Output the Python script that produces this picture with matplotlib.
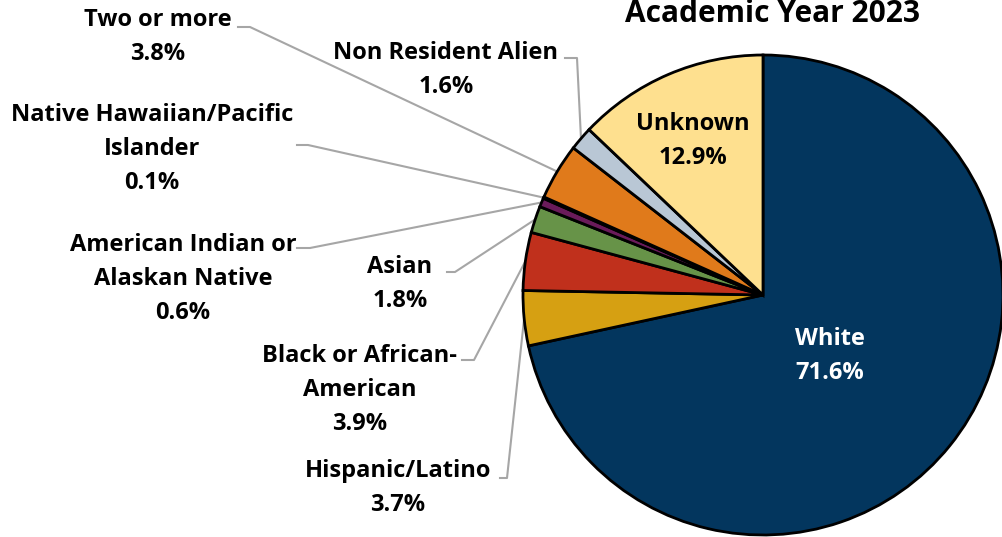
import numpy as np
import matplotlib.pyplot as plt

# data
categories = ['White', 'Hispanic/Latino', 'Black or African-\nAmerican', 'Asian',
              'American Indian or\nAlaskan Native', 'Native Hawaiian/Pacific\nIslander',
              'Two or more', 'Non Resident Alien', 'Unknown']
percents = [71.6, 3.7, 3.9, 1.8, 0.6, 0.1, 3.8, 1.6, 12.9]
colors = ['#03365E', '#D6A012', '#C0301C', '#679348', '#6A1B5A', '#2A2A2A',
          '#E07A1B', '#B9C7D5', '#FEE08F']

# label layout in pixels (text block centre), leader elbow (x, y, elbow x)
label_pos = [(830, 356), (398, 488), (360, 390), (400, 284), (183, 279),
             (152, 149), (158, 37), (446, 70), (693, 141)]
leader = [None, (500, 478, 507), (462, 360, 474), (447, 272, 455), (297, 248, 310),
          (297, 145, 308), (238, 27, 250), (565, 58, 577), None]

W, H = 1002, 537
cx, cy, R = 763, 295, 240

plt.rcParams['font.family'] = ['Open Sans', 'DejaVu Sans']
fig = plt.figure(figsize=(W / 100, H / 100), dpi=100)
ax = fig.add_axes([0, 0, 1, 1])

wedges, _ = ax.pie(percents, colors=colors, startangle=90, counterclock=False,
                   center=(cx, H - cy), radius=R, frame=True,
                   wedgeprops=dict(edgecolor='black', linewidth=2))
ax.set_xlim(0, W)
ax.set_ylim(0, H)
ax.set_aspect('equal')
ax.axis('off')

for i, w in enumerate(wedges):
    txt = categories[i] + '\n' + ('%.1f%%' % percents[i])
    x, y = label_pos[i]
    col = 'white' if i == 0 else 'black'
    ax.text(x, H - y, txt, ha='center', va='center', fontsize=17, fontweight='bold',
            color=col, linespacing=1.55)
    if leader[i] is not None:
        # leader goes to the middle of the wedge's outer edge
        mid = np.deg2rad((w.theta1 + w.theta2) / 2)
        ex = cx + R * np.cos(mid)
        ey = (H - cy) + R * np.sin(mid)
        lx, ly, bx = leader[i]
        ax.plot([lx, bx, ex], [H - ly, H - ly, ey], color='#A6A6A6', lw=1.5,
                zorder=0)

ax.text(773, H - 22, 'Academic Year 2023', ha='center', va='baseline',
        fontsize=21.5, fontweight='bold')

fig.savefig('out.png', dpi=100)
